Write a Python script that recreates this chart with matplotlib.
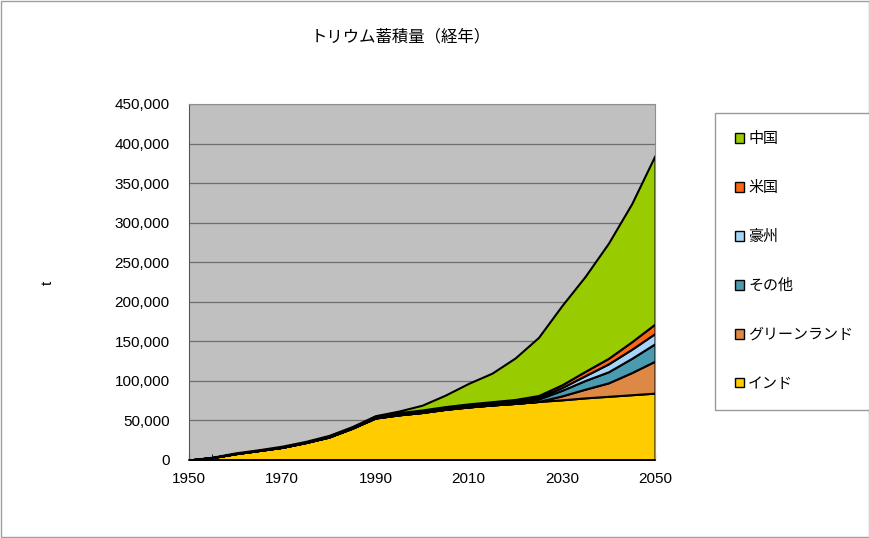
import numpy as np
import matplotlib
matplotlib.use('Agg')
import matplotlib.pyplot as plt
from matplotlib.ticker import FuncFormatter, MultipleLocator, FixedLocator
from matplotlib.patches import Rectangle

plt.rcParams['font.family'] = ['Liberation Sans', 'Noto Sans CJK JP', 'DejaVu Sans']

# years (5-year steps)
years = [1950, 1955, 1960, 1965, 1970, 1975, 1980, 1985, 1990, 1995, 2000,
         2005, 2010, 2015, 2020, 2025, 2030, 2035, 2040, 2045, 2050]

# cumulative thorium stock per country (t)
india     = [0, 3000, 8000, 12000, 16000, 22000, 29000, 40000, 53000, 57000, 60000,
             64000, 67000, 69500, 71500, 74000, 76000, 78500, 80500, 82500, 84500]
greenland = [0, 0, 0, 0, 0, 0, 0, 0, 0, 0, 0,
             0, 0, 0, 0, 0, 5000, 11000, 17000, 28000, 40500]
other     = [0, 0, 0, 0, 0, 0, 0, 300, 1000, 1200, 1200,
             1500, 1500, 1800, 2000, 3000, 7000, 11000, 14000, 18000, 22000]
australia = [0, 0, 0, 0, 0, 0, 0, 200, 500, 800, 1000,
             1000, 1200, 1200, 1500, 2000, 3500, 6000, 10000, 11500, 13000]
usa       = [0, 0, 0, 0, 0, 0, 0, 200, 500, 800, 1000,
             1000, 1200, 1200, 1500, 2500, 3500, 5500, 7000, 9500, 12000]
china     = [0, 500, 1000, 1000, 1500, 1500, 2000, 1500, 1000, 2000, 6000,
             14500, 26000, 36000, 52500, 73500, 100000, 120000, 145500, 174500, 213000]

labels = ['インド', 'グリーンランド', 'その他', '豪州', '米国', '中国']
colors = ['#FFCC00', '#DD8844', '#4A9BB0', '#A6D5F7', '#FF6611', '#99CC00']
xticks = [1950, 1970, 1990, 2010, 2030, 2050]

fig = plt.figure(figsize=(8.7, 5.38), dpi=100)
ax = fig.add_axes([0.2172, 0.145, 0.5357, 0.6617])
ax.set_facecolor('#C0C0C0')

polys = ax.stackplot(years, india, greenland, other, australia, usa, china,
                     colors=colors, labels=labels, edgecolor='black', linewidth=1.5)

ax.set_xlim(1950, 2050)
ax.set_ylim(0, 450000)
ax.yaxis.set_major_locator(MultipleLocator(50000))
ax.yaxis.set_major_formatter(FuncFormatter(lambda v, p: '{:,.0f}'.format(v)))
ax.xaxis.set_major_locator(FixedLocator(xticks))
ax.xaxis.set_minor_locator(MultipleLocator(5))
ax.tick_params(axis='x', which='both', direction='in', length=4, labelsize=11, pad=9)
ax.tick_params(axis='y', length=0, labelsize=11, pad=14)
ax.grid(axis='y', color='#6E6E6E', linewidth=0.9)
ax.set_axisbelow(True)
for s in ['top', 'right']:
    ax.spines[s].set_color('#909090')
    ax.spines[s].set_linewidth(0.8)
ax.spines['left'].set_color('#555555')
ax.spines['bottom'].set_linewidth(1.2)

fig.text(0.055, 0.474, 't', ha='center', va='center', fontsize=11, rotation=90)

fig.text(0.46, 0.932, 'トリウム蓄積量（経年）', ha='center', va='center', fontsize=11.8,
         family=['Noto Sans CJK JP', 'DejaVu Sans'])

h, l = ax.get_legend_handles_labels()
leg = fig.legend(h[::-1], l[::-1], loc='upper left', bbox_to_anchor=(0.822, 0.79),
                 frameon=True, fancybox=False, edgecolor='#808080',
                 handlelength=0.6, handleheight=0.6, handletextpad=0.3,
                 labelspacing=2.32, borderpad=1.3, borderaxespad=0,
                 prop={'family': ['Noto Sans CJK JP', 'DejaVu Sans'], 'size': 10.8})
leg.get_frame().set_linewidth(1.0)
for p in leg.get_patches():
    p.set_linewidth(1.0)

fig.patches.append(Rectangle((0.001, 0.002), 0.998, 0.996, transform=fig.transFigure,
                             fill=False, edgecolor='#A0A0A0', linewidth=1))

fig.savefig('out.png', dpi=100)
